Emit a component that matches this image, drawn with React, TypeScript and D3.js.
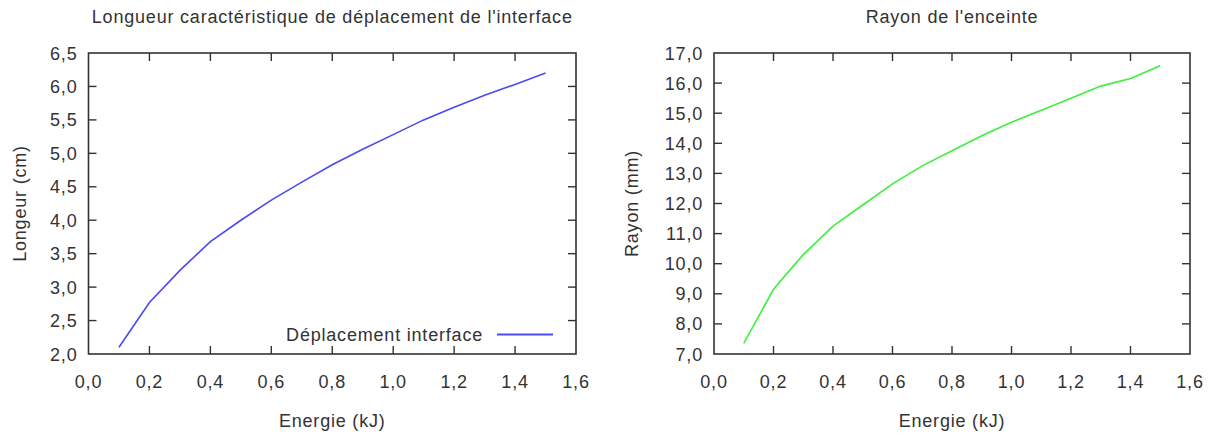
import React from "react";
import * as d3 from "d3";

// ---- data ----
const energie = [0.1, 0.2, 0.3, 0.4, 0.5, 0.6, 0.7, 0.8, 0.9, 1.0, 1.1, 1.2, 1.3, 1.4, 1.5];
const longueur = [2.1, 2.77, 3.25, 3.68, 4.0, 4.3, 4.57, 4.83, 5.06, 5.28, 5.5, 5.69, 5.87, 6.03, 6.2];
const rayon = [7.35, 9.15, 10.3, 11.25, 11.95, 12.65, 13.25, 13.75, 14.25, 14.7, 15.1, 15.5, 15.9, 16.15, 16.58];

const xTicks = [0, 0.2, 0.4, 0.6, 0.8, 1.0, 1.2, 1.4, 1.6];
const yTicksLeft = [2.0, 2.5, 3.0, 3.5, 4.0, 4.5, 5.0, 5.5, 6.0, 6.5];
const yTicksRight = [7, 8, 9, 10, 11, 12, 13, 14, 15, 16, 17];

const titleLeft = "Longueur caractéristique de déplacement de l'interface";
const titleRight = "Rayon de l'enceinte";
const xLabel = "Energie (kJ)";
const yLabelLeft = "Longeur (cm)";
const yLabelRight = "Rayon (mm)";
const legendLeft = "Déplacement interface";

const fr = d3.formatLocale({ decimal: ",", thousands: " ", grouping: [3], currency: ["", "€"] });
const fmt = fr.format(".1f");

const FONT = "'Liberation Sans', Arial, sans-serif";
const TEXT = "#333";
const AXIS = "#333";

type PanelProps = {
  x0: number; x1: number; y0: number; y1: number;
  ydom: [number, number]; yTicks: number[]; values: number[];
  color: string; title: string; yLabel: string; yLabelOffset: number;
  legend?: string;
};

function Panel(p: PanelProps) {
  const x = d3.scaleLinear().domain([0, 1.6]).range([p.x0, p.x1]);
  const y = d3.scaleLinear().domain(p.ydom).range([p.y1, p.y0]);
  const line = d3.line<number>().x((_, i) => x(energie[i])).y((d) => y(d));
  const tl = 8;
  const cx = (p.x0 + p.x1) / 2;
  const cy = (p.y0 + p.y1) / 2;
  const ts = { fontFamily: FONT, fontSize: 18, letterSpacing: 0.8, fill: TEXT } as const;
  return (
    <g>
      <text x={cx} y={23} textAnchor="middle" style={ts}>{p.title}</text>
      {/* frame */}
      <rect x={p.x0} y={p.y0} width={p.x1 - p.x0} height={p.y1 - p.y0} fill="none" stroke={AXIS} strokeWidth={1.6} />
      {xTicks.slice(1, -1).map((t) => (
        <g key={"xt" + t}>
          <line x1={x(t)} x2={x(t)} y1={p.y1} y2={p.y1 - tl} stroke={AXIS} strokeWidth={1.4} />
          <line x1={x(t)} x2={x(t)} y1={p.y0} y2={p.y0 + tl} stroke={AXIS} strokeWidth={1.4} />
        </g>
      ))}
      {p.yTicks.slice(1, -1).map((t) => (
        <g key={"yt" + t}>
          <line x1={p.x0} x2={p.x0 + tl} y1={y(t)} y2={y(t)} stroke={AXIS} strokeWidth={1.4} />
          <line x1={p.x1} x2={p.x1 - tl} y1={y(t)} y2={y(t)} stroke={AXIS} strokeWidth={1.4} />
        </g>
      ))}
      {xTicks.map((t) => (
        <text key={"xl" + t} x={x(t)} y={388} textAnchor="middle" style={ts}>{fmt(t)}</text>
      ))}
      {p.yTicks.map((t) => (
        <text key={"yl" + t} x={p.x0 - 11} y={y(t) + 6.5} textAnchor="end" style={ts}>{fmt(t)}</text>
      ))}
      <text x={cx} y={427} textAnchor="middle" style={ts}>{xLabel}</text>
      <text
        transform={`translate(${p.x0 - p.yLabelOffset},${cy}) rotate(-90)`}
        textAnchor="middle"
        style={ts}
      >{p.yLabel}</text>
      <path d={line(p.values) || ""} fill="none" stroke={p.color} strokeWidth={1.6} />
      {p.legend && (
        <g>
          <text x={483} y={341} textAnchor="end" style={ts}>{p.legend}</text>
          <line x1={497} x2={553} y1={334.5} y2={334.5} stroke={p.color} strokeWidth={1.8} />
        </g>
      )}
    </g>
  );
}

export default function App() {
  return (
    <svg width={1211} height={435} style={{ position: "absolute", left: 0, top: 0, background: "#fff" }}>
      <rect width={1211} height={435} fill="#fff" />
      <Panel x0={88.5} x1={576} y0={53} y1={354} ydom={[2, 6.5]} yTicks={yTicksLeft} values={longueur}
        color="#4a4af2" title={titleLeft} yLabel={yLabelLeft} yLabelOffset={63} legend={legendLeft} />
      <Panel x0={714} x1={1190} y0={53} y1={354} ydom={[7, 17]} yTicks={yTicksRight} values={rayon}
        color="#3cf03c" title={titleRight} yLabel={yLabelRight} yLabelOffset={76} />
    </svg>
  );
}
